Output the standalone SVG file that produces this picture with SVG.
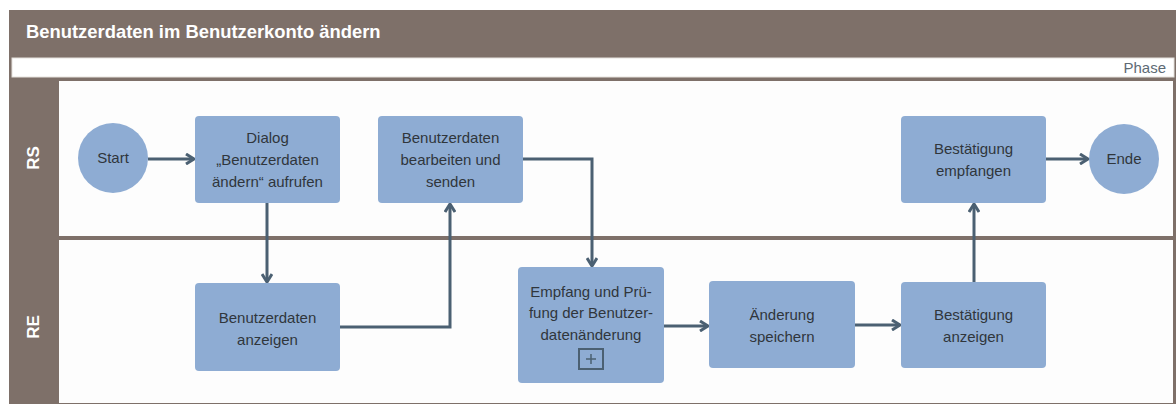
<svg xmlns="http://www.w3.org/2000/svg" width="1176" height="405" viewBox="0 0 1176 405">
<style>
.node{fill:#8eacd3;}
.t{font-family:"Liberation Sans",Arial,sans-serif;font-size:15px;fill:#30363c;text-anchor:middle;}
.lane{font-family:"Liberation Sans",Arial,sans-serif;font-size:17px;font-weight:bold;fill:#ffffff;text-anchor:middle;}
.conn{fill:none;stroke:#4b6072;stroke-width:3;}
</style>
<defs>
<marker id="arr" viewBox="0 0 12 12" refX="10" refY="6" markerWidth="12" markerHeight="12" markerUnits="userSpaceOnUse" orient="auto">
<path d="M2,1 L10,6 L2,11" fill="none" stroke="#4b6072" stroke-width="3" stroke-linejoin="miter"/>
</marker>
</defs>
<rect x="0" y="0" width="1176" height="405" fill="#ffffff"/>
<g id="pool">
<rect x="9" y="10" width="1167" height="394" fill="#7e7069"/>
<text x="26" y="38" font-family="'Liberation Sans',Arial,sans-serif" font-size="18.4" font-weight="bold" fill="#ffffff">Benutzerdaten im Benutzerkonto ändern</text>
<rect x="12" y="58" width="1162" height="19" fill="#ffffff" stroke="#e6e2dd" stroke-width="1"/>
<text x="1166" y="73" font-family="'Liberation Sans',Arial,sans-serif" font-size="15" fill="#5d6a74" text-anchor="end">Phase</text>
<rect x="59" y="81" width="1114" height="155" fill="#fdfdfd"/>
<rect x="59" y="240" width="1114" height="163" fill="#fdfdfd"/>
<text class="lane" transform="translate(39,158) rotate(-90)">RS</text>
<text class="lane" transform="translate(39,327) rotate(-90)">RE</text>
</g>
<g id="connectors">
<path class="conn" d="M148,159 H194" marker-end="url(#arr)"/>
<path class="conn" d="M267,203 V282" marker-end="url(#arr)"/>
<path class="conn" d="M340,327 H450 V204" marker-end="url(#arr)"/>
<path class="conn" d="M523,159 H592 V266" marker-end="url(#arr)"/>
<path class="conn" d="M664,326 H708" marker-end="url(#arr)"/>
<path class="conn" d="M855,325 H900" marker-end="url(#arr)"/>
<path class="conn" d="M974,282 V204" marker-end="url(#arr)"/>
<path class="conn" d="M1046,159 H1088" marker-end="url(#arr)"/>
</g>
<g id="start">
<circle class="node" cx="113" cy="158" r="35"/>
<text class="t" x="113" y="163">Start</text>
</g>
<g id="dialog">
<rect class="node" x="195" y="116" width="145" height="87" rx="4"/>
<text class="t" x="267.5" y="143">Dialog</text>
<text class="t" x="267.5" y="165">„Benutzerdaten</text>
<text class="t" x="267.5" y="187">ändern“ aufrufen</text>
</g>
<g id="bearbeiten">
<rect class="node" x="378" y="116" width="145" height="87" rx="4"/>
<text class="t" x="450.5" y="143">Benutzerdaten</text>
<text class="t" x="450.5" y="165">bearbeiten und</text>
<text class="t" x="450.5" y="187">senden</text>
</g>
<g id="anzeigen">
<rect class="node" x="195" y="283" width="145" height="88" rx="4"/>
<text class="t" x="267.5" y="323">Benutzerdaten</text>
<text class="t" x="267.5" y="345">anzeigen</text>
</g>
<g id="empfang">
<rect class="node" x="518" y="267" width="146" height="116" rx="4"/>
<text class="t" x="591" y="297">Empfang und Prü-</text>
<text class="t" x="591" y="318">fung der Benutzer-</text>
<text class="t" x="591" y="340">datenänderung</text>
<rect x="579" y="349" width="24" height="20" fill="none" stroke="#4b6072" stroke-width="2"/>
<path d="M591,354 V364 M586,359 H596" stroke="#4b6072" stroke-width="1.5" fill="none"/>
</g>
<g id="speichern">
<rect class="node" x="709" y="281" width="146" height="87" rx="4"/>
<text class="t" x="782" y="320">Änderung</text>
<text class="t" x="782" y="342">speichern</text>
</g>
<g id="best_anzeigen">
<rect class="node" x="901" y="282" width="145" height="86" rx="4"/>
<text class="t" x="973.5" y="320">Bestätigung</text>
<text class="t" x="973.5" y="342">anzeigen</text>
</g>
<g id="best_empfangen">
<rect class="node" x="901" y="116" width="145" height="87" rx="4"/>
<text class="t" x="973.5" y="154">Bestätigung</text>
<text class="t" x="973.5" y="176">empfangen</text>
</g>
<g id="ende">
<circle class="node" cx="1124" cy="159" r="35"/>
<text class="t" x="1124" y="164">Ende</text>
</g>
</svg>
